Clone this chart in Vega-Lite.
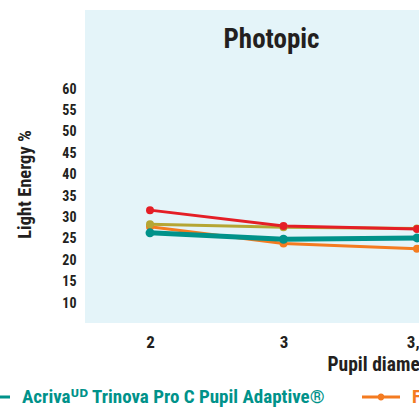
{
  "$schema": "https://vega.github.io/schema/vega-lite/v6.json",
  "width": 334,
  "height": 313,
  "autosize": {"type": "none"},
  "padding": {"left": 85, "top": 10, "right": 0, "bottom": 85},
  "background": "white",
  "view": {"fill": "#E4F4F9", "stroke": null},
  "config": {
    "font": "Roboto Condensed, Liberation Sans Narrow, DejaVu Sans Condensed, Roboto, sans-serif"
  },
  "title": {
    "text": "Photopic",
    "fontSize": 27,
    "fontWeight": "bold",
    "color": "#231F20",
    "anchor": "middle",
    "frame": "group",
    "dx": 19.5,
    "dy": 65.4,
    "baseline": "alphabetic",
    "offset": 0
  },
  "data": {
    "values": [
      {"d": "2", "s": "FineVision", "v": 27.8},
      {"d": "3", "s": "FineVision", "v": 23.9},
      {"d": "3,5", "s": "FineVision", "v": 22.7},
      {"d": "2", "s": "Synergy", "v": 28.4},
      {"d": "3", "s": "Synergy", "v": 27.7},
      {"d": "3,5", "s": "Synergy", "v": 27.4},
      {"d": "2", "s": "PanOptix", "v": 31.7},
      {"d": "3", "s": "PanOptix", "v": 28.0},
      {"d": "3,5", "s": "PanOptix", "v": 27.3},
      {"d": "2", "s": "Acrivaᵁᴰ Trinova Pro C Pupil Adaptive®", "v": 26.4},
      {"d": "3", "s": "Acrivaᵁᴰ Trinova Pro C Pupil Adaptive®", "v": 24.9},
      {"d": "3,5", "s": "Acrivaᵁᴰ Trinova Pro C Pupil Adaptive®", "v": 25.2}
    ]
  },
  "encoding": {
    "x": {
      "field": "d",
      "type": "ordinal",
      "sort": ["2", "3", "3,5"],
      "scale": {"type": "point", "padding": 0.251, "align": 0.97},
      "axis": {
        "title": "Pupil diameter (mm)",
        "labelAngle": 0,
        "domain": false,
        "ticks": false,
        "grid": false,
        "labelFontSize": 17,
        "labelFontWeight": "bold",
        "labelColor": "#231F20",
        "labelPadding": 11,
        "titleFontSize": 19.5,
        "titleFontWeight": "bold",
        "titleColor": "#231F20",
        "titleAlign": "left",
        "titleBaseline": "alphabetic",
        "titleX": 242,
        "titleY": 47
      }
    },
    "y": {
      "field": "v",
      "type": "quantitative",
      "scale": {"domain": [5.33, 78.46], "nice": false, "zero": false},
      "axis": {
        "title": "Light Energy %",
        "values": [10, 15, 20, 25, 30, 35, 40, 45, 50, 55, 60],
        "domain": false,
        "ticks": false,
        "grid": false,
        "labelFontSize": 14,
        "labelFontWeight": "bold",
        "labelColor": "#231F20",
        "labelPadding": 9,
        "titleFontSize": 18.5,
        "titleFontWeight": "bold",
        "titleColor": "#231F20",
        "titleAngle": 270,
        "titleAlign": "center",
        "titleBaseline": "alphabetic",
        "titleX": -55,
        "titleY": 174
      }
    },
    "color": {
      "field": "s",
      "type": "nominal",
      "scale": {
        "domain": ["Acrivaᵁᴰ Trinova Pro C Pupil Adaptive®", "FineVision", "PanOptix", "Synergy"],
        "range": ["#00928A", "#F47B20", "#E41E26", "#B5A634"]
      },
      "legend": {
        "orient": "none",
        "direction": "horizontal",
        "legendX": -113,
        "legendY": 368,
        "title": null,
        "padding": 0,
        "symbolType": "M-1,-0.08H1V0.08H-1Z M0.18,0A0.18,0.18,0,1,1,-0.18,0A0.18,0.18,0,1,1,0.18,0Z",
        "symbolSize": 1444,
        "symbolStrokeWidth": 0,
        "labelOffset": 12,
        "columnPadding": 36,
        "labelFontSize": 19,
        "labelFontWeight": "bold",
        "labelLimit": 1000,
        "encode": {
          "labels": {"update": {"fill": {"scale": "color", "field": "value"}}},
          "symbols": {"update": {"fill": {"scale": "color", "field": "value"}, "stroke": {"value": "transparent"}, "opacity": {"value": 1}}}
        }
      }
    }
  },
  "layer": [
    {
      "mark": {"type": "line"},
      "encoding": {
        "strokeWidth": {
          "condition": {"test": "datum.s === 'Acrivaᵁᴰ Trinova Pro C Pupil Adaptive®'", "value": 5},
          "value": 3
        }
      }
    },
    {
      "mark": {"type": "circle", "opacity": 1},
      "encoding": {
        "size": {
          "condition": {"test": "datum.s === 'Acrivaᵁᴰ Trinova Pro C Pupil Adaptive®'", "value": 80},
          "value": 64
        }
      }
    }
  ]
}
